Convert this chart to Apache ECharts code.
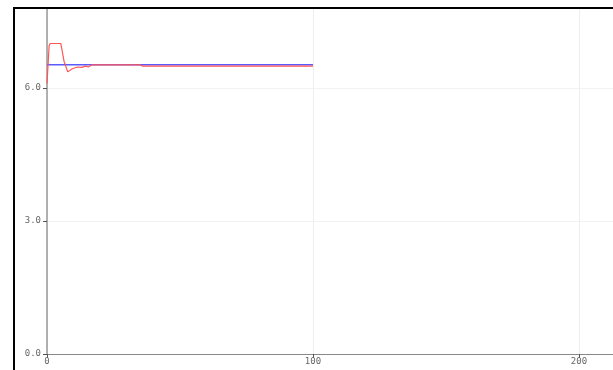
<!DOCTYPE html>
<html>
<head>
<meta charset="utf-8">
<script src="https://cdn.jsdelivr.net/npm/echarts@6/dist/echarts.min.js"></script>
<style>
  html, body { margin: 0; padding: 0; background: #fff; }
  #chart { width: 613px; height: 370px; }
</style>
</head>
<body>
<div id="chart"></div>
<script>
// Step response (red) against its set point (blue)
const responseX = [0, 0.8, 1.2, 5.2, 6.4, 7.8, 9.5, 11.5, 13, 14.5, 15.5, 17, 35, 36, 100];
const responseY = [6.1, 6.95, 7.0, 7.0, 6.6, 6.36, 6.43, 6.47, 6.46, 6.49, 6.47, 6.52, 6.52, 6.49, 6.49];
const setpointX = [0, 100];
const setpointY = [6.52, 6.52];
const xTicks = [0, 100, 200];
const yTicks = [0.0, 3.0, 6.0];

const pairs = (xs, ys) => xs.map((x, i) => [x, ys[i]]);

const chart = echarts.init(document.getElementById('chart'), null, { renderer: 'canvas' });
const labelFont = { fontFamily: 'DejaVu Sans Mono', fontSize: 9, color: '#666' };

chart.setOption({
  animation: false,
  grid: { left: 47, top: 8, right: 0, bottom: 16, containLabel: false },
  xAxis: {
    type: 'value', min: 0, max: 212.8, interval: 100,
    axisLine: { lineStyle: { color: '#888', width: 1 } },
    axisTick: { show: true, length: 4, lineStyle: { color: '#555' } },
    axisLabel: Object.assign({ margin: 3, showMaxLabel: false,
      formatter: v => xTicks.includes(v) ? String(v) : '' }, labelFont),
    splitLine: { show: true, lineStyle: { color: '#eee', width: 1 } }
  },
  yAxis: {
    type: 'value', min: 0, max: 7.8, interval: 3,
    axisLine: { show: true, onZero: false, lineStyle: { color: '#999', width: 1.5 } },
    axisTick: { show: true, length: 4, lineStyle: { color: '#555' } },
    axisLabel: Object.assign({ margin: 6, showMaxLabel: false,
      formatter: v => yTicks.includes(v) ? v.toFixed(1) : '' }, labelFont),
    splitLine: { show: true, lineStyle: { color: '#f2f2f2', width: 1 } }
  },
  series: [
    {
      name: 'setpoint', type: 'line', data: pairs(setpointX, setpointY),
      showSymbol: false, lineStyle: { color: '#5a5aff', width: 1.5 }, z: 2
    },
    {
      name: 'response', type: 'line', data: pairs(responseX, responseY),
      showSymbol: false, lineStyle: { color: '#ff5555', width: 1.2 }, z: 3
    }
  ],
  graphic: [{
    type: 'rect', silent: true, z: 100,
    shape: { x: 14, y: 8, width: 700, height: 400 },
    style: { fill: 'none', stroke: '#000', lineWidth: 2 }
  }]
});
</script>
</body>
</html>
